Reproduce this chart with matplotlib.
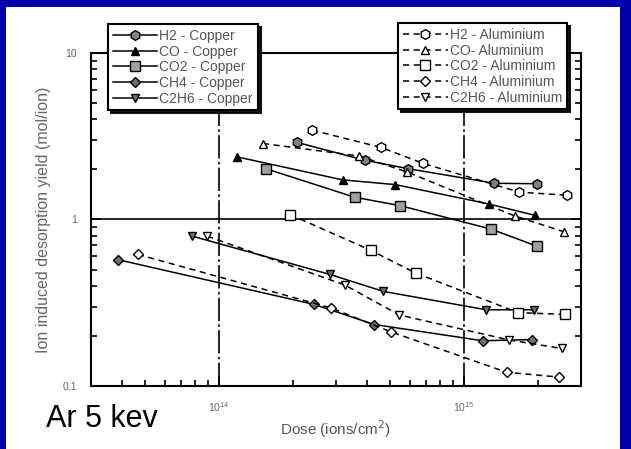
import numpy as np
import matplotlib.pyplot as plt
from matplotlib.patches import Rectangle
from matplotlib.ticker import FixedLocator, FixedFormatter, LogLocator, NullFormatter

plt.rcParams['font.family'] = ['Liberation Sans', 'DejaVu Sans']

# ---- data (dose in ions/cm2, yield in mol/ion) ----
gases = ['H2', 'CO', 'CO2', 'CH4', 'C2H6']

cu_dose = {
    'H2':   [2.07e14, 3.93e14, 5.90e14, 1.33e15, 1.99e15],
    'CO':   [1.18e14, 3.19e14, 5.24e14, 1.26e15, 1.94e15],
    'CO2':  [1.55e14, 3.58e14, 5.50e14, 1.29e15, 1.98e15],
    'CH4':  [3.86e13, 2.44e14, 4.30e14, 1.19e15, 1.89e15],
    'C2H6': [7.78e13, 2.83e14, 4.68e14, 1.23e15, 1.92e15],
}
cu_yield = {
    'H2':   [2.91, 2.27, 2.02, 1.65, 1.64],
    'CO':   [2.38, 1.73, 1.62, 1.24, 1.06],
    'CO2':  [2.02, 1.36, 1.21, 0.875, 0.692],
    'CH4':  [0.574, 0.309, 0.234, 0.187, 0.190],
    'C2H6': [0.794, 0.468, 0.370, 0.287, 0.287],
}
al_dose = {
    'H2':   [2.40e14, 4.58e14, 6.82e14, 1.68e15, 2.62e15],
    'CO':   [1.51e14, 3.71e14, 5.85e14, 1.61e15, 2.55e15],
    'CO2':  [1.95e14, 4.17e14, 6.34e14, 1.66e15, 2.59e15],
    'CH4':  [4.66e13, 2.85e14, 5.05e14, 1.49e15, 2.45e15],
    'C2H6': [8.95e13, 3.25e14, 5.44e14, 1.53e15, 2.50e15],
}
al_yield = {
    'H2':   [3.44, 2.71, 2.17, 1.46, 1.40],
    'CO':   [2.86, 2.41, 1.93, 1.05, 0.845],
    'CO2':  [1.07, 0.652, 0.477, 0.276, 0.269],
    'CH4':  [0.617, 0.295, 0.211, 0.121, 0.113],
    'C2H6': [0.794, 0.405, 0.267, 0.189, 0.168],
}
cu_labels = ['H2 - Copper', 'CO - Copper', 'CO2 - Copper', 'CH4 - Copper', 'C2H6 - Copper']
al_labels = ['H2 - Aluminium', 'CO- Aluminium', 'CO2 - Aluminium', 'CH4 - Aluminium', 'C2H6 - Aluminium']

markers = {'H2': 'h', 'CO': '^', 'CO2': 's', 'CH4': 'D', 'C2H6': 'v'}
cu_fill = {'H2': '#808080', 'CO': 'black', 'CO2': '#a0a0a0', 'CH4': '#707070', 'C2H6': '#707070'}
msize = {'H2': 7, 'CO': 6, 'CO2': 7, 'CH4': 5, 'C2H6': 6}

# ---- figure ----
fig = plt.figure(figsize=(6.31, 4.49), dpi=100)
fig.patch.set_facecolor('#0000AA')
fig.patches.append(Rectangle((6/631, 0), 614/631, 1 - 7/449, transform=fig.transFigure,
                             facecolor='white', edgecolor='none', zorder=-5))

ax = fig.add_axes([91/631, 63/449, 490/631, 333/449])
ax.set_xscale('log')
ax.set_yscale('log')
ax.set_xlim(3e13, 3e15)
ax.set_ylim(0.1, 10)

cu_handles = []
for g, lab in zip(gases, cu_labels):
    h, = ax.plot(cu_dose[g], cu_yield[g], '-', color='black', lw=1.1,
                 marker=markers[g], ms=msize[g], mfc=cu_fill[g], mec='black', mew=1.0,
                 label=lab, zorder=3)
    cu_handles.append(h)

al_handles = []
for g, lab in zip(gases, al_labels):
    h, = ax.plot(al_dose[g], al_yield[g], color='black', lw=1.1, ls=(0, (4, 3)),
                 marker=markers[g], ms=msize[g], mfc='white', mec='black', mew=1.0,
                 label=lab, zorder=3)
    al_handles.append(h)

# reference lines
ax.axhline(1, color='black', lw=1.2, zorder=2)
for xv in [1e14, 1e15]:
    ax.axvline(xv, color='black', lw=1.2, ls=(0, (14, 2, 1.5, 2)), zorder=2)

for s in ax.spines.values():
    s.set_linewidth(1.5)

ax.yaxis.set_major_locator(FixedLocator([0.1, 1, 10]))
ax.yaxis.set_major_formatter(FixedFormatter(['0.1', '1', '10']))
ax.yaxis.set_minor_locator(LogLocator(base=10, subs=np.arange(2, 10)))
ax.yaxis.set_minor_formatter(NullFormatter())
ax.xaxis.set_minor_locator(LogLocator(base=10, subs=np.arange(2, 10)))
ax.xaxis.set_minor_formatter(NullFormatter())

ax.tick_params(which='both', direction='in', right=True, top=False,
               labelsize=7.5, labelcolor='#666666', pad=10, width=1.2)
ax.tick_params(which='major', length=7)
ax.tick_params(which='minor', length=4)

ax.set_xlabel('Dose (ions/cm$^2$)', fontsize=11, color='#555555', labelpad=3)
ax.set_ylabel('Ion induced desorption yield (mol/ion)', fontsize=11.5, color='#666666', labelpad=8)

leg_kw = dict(frameon=True, fancybox=False, framealpha=1, edgecolor='black',
              fontsize=10, handlelength=3.2, handletextpad=0.15, labelspacing=0.12,
              borderpad=0.35, borderaxespad=0, shadow={'color': 'black', 'alpha': 0.9})
leg1 = fig.legend(handles=cu_handles, loc='upper left',
                  bbox_to_anchor=(108/631, 1 - 24/449), **leg_kw)
leg2 = fig.legend(handles=al_handles, loc='upper right',
                  bbox_to_anchor=(567/631, 1 - 23/449), **leg_kw)
for leg in (leg1, leg2):
    leg.get_frame().set_linewidth(1.5)
    for t in leg.get_texts():
        t.set_color('#555555')

fig.text(46/631, 1 - 427/449, 'Ar 5 kev', fontsize=22, color='black')

plt.savefig('out.png', dpi=100, facecolor=fig.get_facecolor())
